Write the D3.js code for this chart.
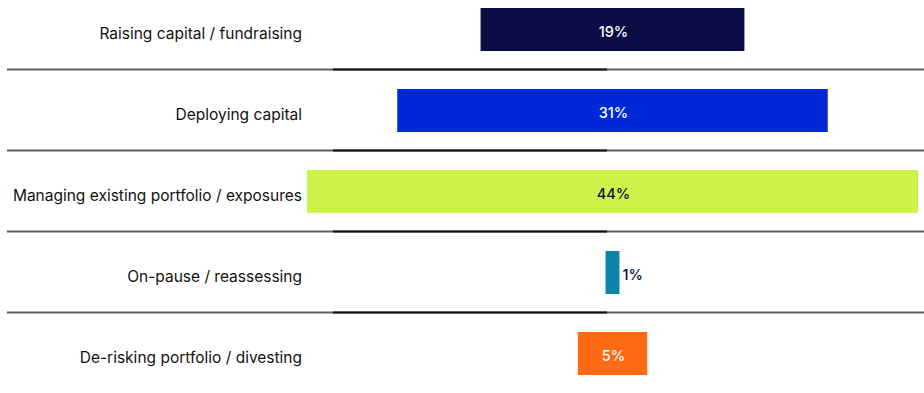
<!DOCTYPE html>
<html>
<head>
<meta charset="utf-8">
<script src="https://cdn.jsdelivr.net/npm/d3@7"></script>
<style>
  html, body { margin: 0; padding: 0; background: #fff; }
  svg { display: block; }
</style>
</head>
<body>
<svg id="chart" width="924" height="393"></svg>
<script>
// Share of respondents by current focus
const categories = [
  "Raising capital / fundraising",
  "Deploying capital",
  "Managing existing portfolio / exposures",
  "On-pause / reassessing",
  "De-risking portfolio / divesting"
];
const values = [19, 31, 44, 1, 5];
const barColors = ["#0a0e45", "#0028d6", "#cdf24a", "#0a84a8", "#ff6a13"];
const valueTextColors = ["#ffffff", "#ffffff", "#0a0e45", "#0a0e45", "#ffffff"];

const width = 924, height = 393;
const centerX = 612.5;      // bars grow symmetrically from this line
const barH = 43;

const svg = d3.select("#chart");

// Half-width of each bar as a function of its share
const half = d3.scaleLinear().domain([0, 44]).range([0, 305.5]);
const y = d3.scalePoint().domain(categories).range([29.5, 353.5]);

// Row separators
const step = y.step();
const seps = categories.slice(1).map(c => y(c) - step / 2 - 0.5);
const sepG = svg.append("g");
sepG.selectAll("line.full").data(seps).join("line")
  .attr("class", "full")
  .attr("x1", 7).attr("x2", width)
  .attr("y1", d => d).attr("y2", d => d)
  .attr("stroke", "#5e5e5e").attr("stroke-width", 2);
sepG.selectAll("line.mid").data(seps).join("line")
  .attr("class", "mid")
  .attr("x1", 333).attr("x2", 607)
  .attr("y1", d => d).attr("y2", d => d)
  .attr("stroke", "#111").attr("stroke-width", 2);

const rows = svg.append("g").selectAll("g").data(categories).join("g");

rows.append("rect")
  .attr("x", (d, i) => centerX - half(values[i]))
  .attr("y", d => y(d) - barH / 2)
  .attr("width", (d, i) => 2 * half(values[i]))
  .attr("height", barH)
  .attr("fill", (d, i) => barColors[i]);

rows.append("text")
  .attr("x", 302)
  .attr("y", d => y(d) + 4)
  .attr("dy", "0.35em")
  .attr("text-anchor", "end")
  .attr("font-family", "Inter, 'Liberation Sans', sans-serif")
  .attr("font-size", 15.5)
  .attr("fill", "#111")
  .text(d => d);

rows.append("text")
  .attr("x", (d, i) => values[i] < 3 ? centerX + half(values[i]) + 3 : centerX + 1)
  .attr("y", d => y(d) + 2)
  .attr("dy", "0.35em")
  .attr("text-anchor", (d, i) => values[i] < 3 ? "start" : "middle")
  .attr("font-family", "Inter, 'Liberation Sans', sans-serif")
  .attr("font-size", 14.5)
  .attr("font-weight", 500)
  .attr("fill", (d, i) => valueTextColors[i])
  .text((d, i) => values[i] + "%");
</script>
</body>
</html>
